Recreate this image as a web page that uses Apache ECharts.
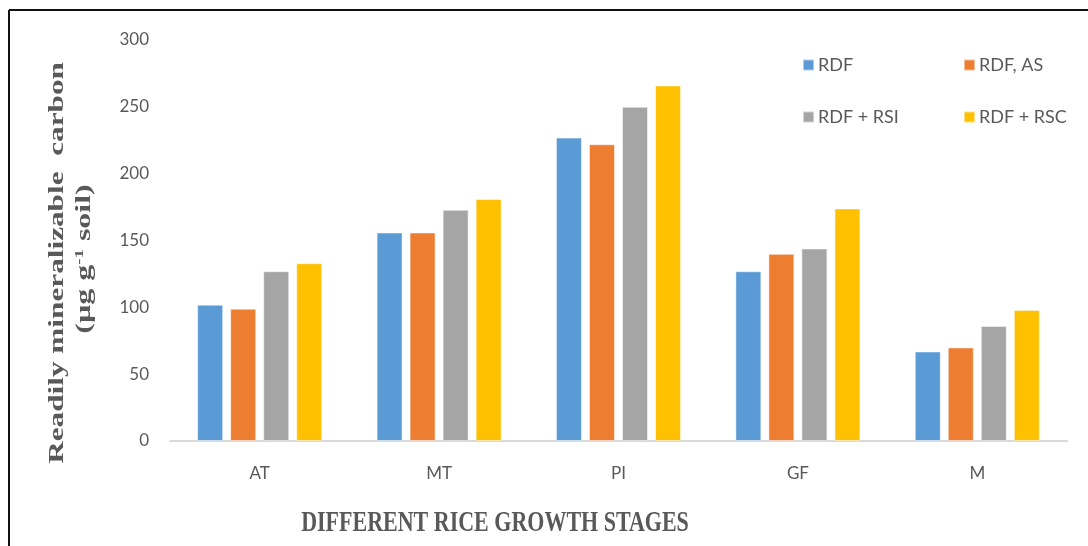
<!DOCTYPE html>
<html>
<head>
<meta charset="utf-8">
<script src="https://cdn.jsdelivr.net/npm/echarts@6/dist/echarts.min.js"></script>
<style>
  html, body { margin: 0; padding: 0; background: #fff; }
  #chart { width: 1088px; height: 546px; }
</style>
</head>
<body>
<div id="chart"></div>
<script>
// Growth stages on the x axis
const stages = ['AT', 'MT', 'PI', 'GF', 'M'];

// Readily mineralizable carbon (µg g-1 soil) per treatment
const rdf    = [102, 156, 227, 127, 67];
const rdfAs  = [99, 156, 222, 140, 70];
const rdfRsi = [127, 173, 250, 144, 86];
const rdfRsc = [133, 181, 266, 174, 98];

const seriesNames = ['RDF', 'RDF, AS', 'RDF + RSI', 'RDF + RSC'];
const seriesColors = ['#5b9bd5', '#ed7d31', '#a5a5a5', '#ffc000'];
const yTicks = [0, 50, 100, 150, 200, 250, 300];

const tickFont = 'Lato, "Open Sans", sans-serif';
const titleFont = '"Liberation Serif", "DejaVu Serif", serif';
const textGray = '#595959';

const chart = echarts.init(document.getElementById('chart'));

const legendPos = [
  { left: 802, top: 56 },
  { left: 963, top: 56 },
  { left: 802, top: 108 },
  { left: 963, top: 108 }
];

const values = [rdf, rdfAs, rdfRsi, rdfRsc];

chart.setOption({
  backgroundColor: '#ffffff',
  animation: false,
  grid: { left: 170, right: 21, top: 40, bottom: 105, containLabel: false },
  legend: seriesNames.map((name, i) => ({
    data: [name],
    left: legendPos[i].left,
    top: legendPos[i].top,
    padding: 0,
    itemWidth: 11,
    itemHeight: 11,
    itemGap: 0,
    icon: 'rect',
    textStyle: { color: textGray, fontFamily: tickFont, fontSize: 18, padding: [0, 0, 0, -1] }
  })),
  xAxis: {
    type: 'category',
    data: stages,
    axisLine: { show: true, lineStyle: { color: '#d9d9d9', width: 2 } },
    axisTick: { show: false },
    axisLabel: { color: textGray, fontFamily: tickFont, fontSize: 17, margin: 24 }
  },
  yAxis: {
    type: 'value',
    min: yTicks[0],
    max: yTicks[yTicks.length - 1],
    interval: 50,
    axisLine: { show: false },
    axisTick: { show: false },
    splitLine: { show: false },
    axisLabel: { color: textGray, fontFamily: tickFont, fontSize: 17, margin: 21 }
  },
  series: seriesNames.map((name, i) => ({
    name: name,
    type: 'bar',
    data: values[i],
    barWidth: 26,
    barGap: '27%',
    itemStyle: { color: seriesColors[i], borderColor: 'rgba(255,255,255,0.5)', borderWidth: 1 }
  })),
  graphic: [
    // frame lines along the top and left edges
    { type: 'line', shape: { x1: 9, y1: 10, x2: 1088, y2: 10 }, style: { stroke: '#111', lineWidth: 2 } },
    { type: 'line', shape: { x1: 9, y1: 10, x2: 9, y2: 546 }, style: { stroke: '#111', lineWidth: 2 } },
    // y axis title, two rotated lines
    {
      type: 'text',
      x: 57, y: 263,
      rotation: Math.PI / 2,
      scaleX: 1.42,
      style: {
        text: 'Readily mineralizable  carbon',
        font: 'bold 22px ' + titleFont,
        fill: textGray,
        align: 'center',
        verticalAlign: 'middle'
      }
    },
    {
      type: 'text',
      x: 84, y: 259,
      rotation: Math.PI / 2,
      scaleX: 1.45,
      style: {
        text: '(µg g{sup|-1} soil)',
        font: 'bold 22px ' + titleFont,
        fill: textGray,
        align: 'center',
        verticalAlign: 'middle',
        rich: {
          sup: { font: 'bold 13px ' + titleFont, fill: textGray, verticalAlign: 'top', padding: [0, 0, 8, 0] }
        }
      }
    },
    // x axis title
    {
      type: 'text',
      x: 495, y: 523,
      scaleY: 1.35,
      style: {
        text: 'DIFFERENT RICE GROWTH STAGES',
        font: 'bold 22px ' + titleFont,
        fill: textGray,
        align: 'center',
        verticalAlign: 'middle'
      }
    }
  ]
});
</script>
</body>
</html>
